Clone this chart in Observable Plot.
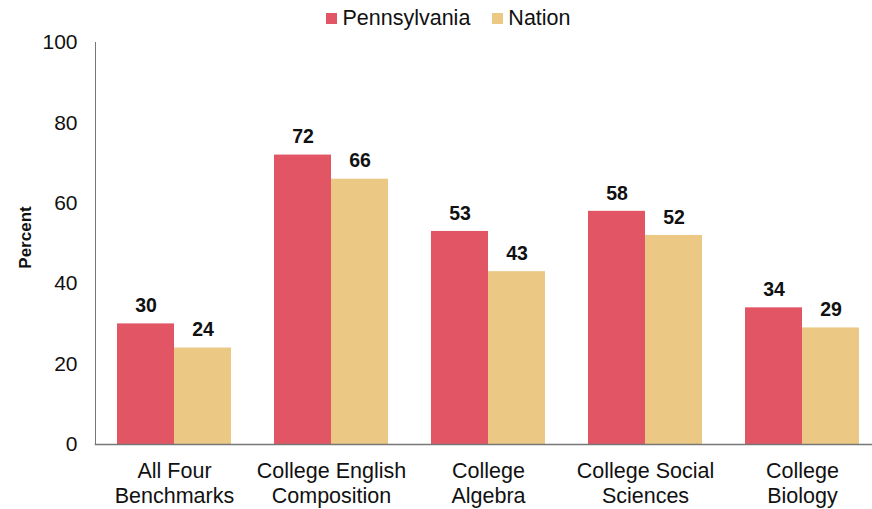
<!DOCTYPE html>
<html>
<head>
<meta charset="utf-8">
<script src="https://cdn.jsdelivr.net/npm/d3@7"></script>
<script src="https://cdn.jsdelivr.net/npm/@observablehq/plot@0.6"></script>
<style>
  body { margin: 0; background: #fff; font-family: "Liberation Sans", Arial, sans-serif; }
  #legend { height: 24px; display: flex; justify-content: center; align-items: center; gap: 22px; font-size: 21.5px; color: #111; padding-left: 25px; box-sizing: border-box; position: relative; top: 6px; }
  #legend span.sw { display: inline-block; width: 11px; height: 11px; margin-right: 5px; vertical-align: 1px; }
  #chart svg { display: block; }
</style>
</head>
<body>
<div id="legend"></div>
<div id="chart"></div>
<script>
const categories = ["All Four\nBenchmarks", "College English\nComposition", "College\nAlgebra", "College Social\nSciences", "College\nBiology"];
const seriesNames = ["Pennsylvania", "Nation"];
const pennsylvania = [30, 72, 53, 58, 34];
const nation = [24, 66, 43, 52, 29];
const yTicks = [0, 20, 40, 60, 80, 100];
const colors = ["#E15564", "#EBC985"];

const legend = document.getElementById("legend");
seriesNames.forEach((s, i) => {
  const item = document.createElement("span");
  item.innerHTML = `<span class="sw" style="background:${colors[i]}"></span>${s}`;
  legend.appendChild(item);
});

const pa = categories.map((c, i) => ({category: c, value: pennsylvania[i]}));
const na = categories.map((c, i) => ({category: c, value: nation[i]}));

const half = 57;

const chart = Plot.plot({
  width: 872,
  height: 485,
  marginLeft: 95,
  marginRight: 0,
  marginTop: 18,
  marginBottom: 65,
  style: {fontFamily: "Liberation Sans, Arial, sans-serif", background: "#fff", color: "#111"},
  x: {domain: categories, range: [116, 859], paddingInner: 0.275, paddingOuter: 0, label: null},
  y: {domain: [0, 100], label: null},
  marks: [
    Plot.barY(pa, {x: "category", y: "value", fill: colors[0], insetLeft: 0, insetRight: half}),
    Plot.barY(na, {x: "category", y: "value", fill: colors[1], insetLeft: half, insetRight: 0}),
    Plot.text(pa, {x: "category", y: "value", text: d => String(d.value), dx: -half / 2, dy: -18, fontSize: 19.5, fontWeight: "bold", fill: "#111"}),
    Plot.text(na, {x: "category", y: "value", text: d => String(d.value), dx: half / 2, dy: -18, fontSize: 19.5, fontWeight: "bold", fill: "#111"}),
    Plot.frame({anchor: "left", stroke: "#777"}),
    Plot.frame({anchor: "bottom", stroke: "#777", strokeWidth: 1.5}),
    Plot.axisY({ticks: yTicks, tickSize: 0, tickPadding: 18, fontSize: 21, label: null}),
    Plot.axisX({tickSize: 0, tickPadding: 16, fontSize: 21.5, lineHeight: 1.16, label: null}),
    Plot.text(["Percent"], {frameAnchor: "left", textAnchor: "middle", dx: -70, dy: -6, rotate: -90, fontSize: 17, fontWeight: "bold", fill: "#111"})
  ]
});
document.getElementById("chart").appendChild(chart);
</script>
</body>
</html>
